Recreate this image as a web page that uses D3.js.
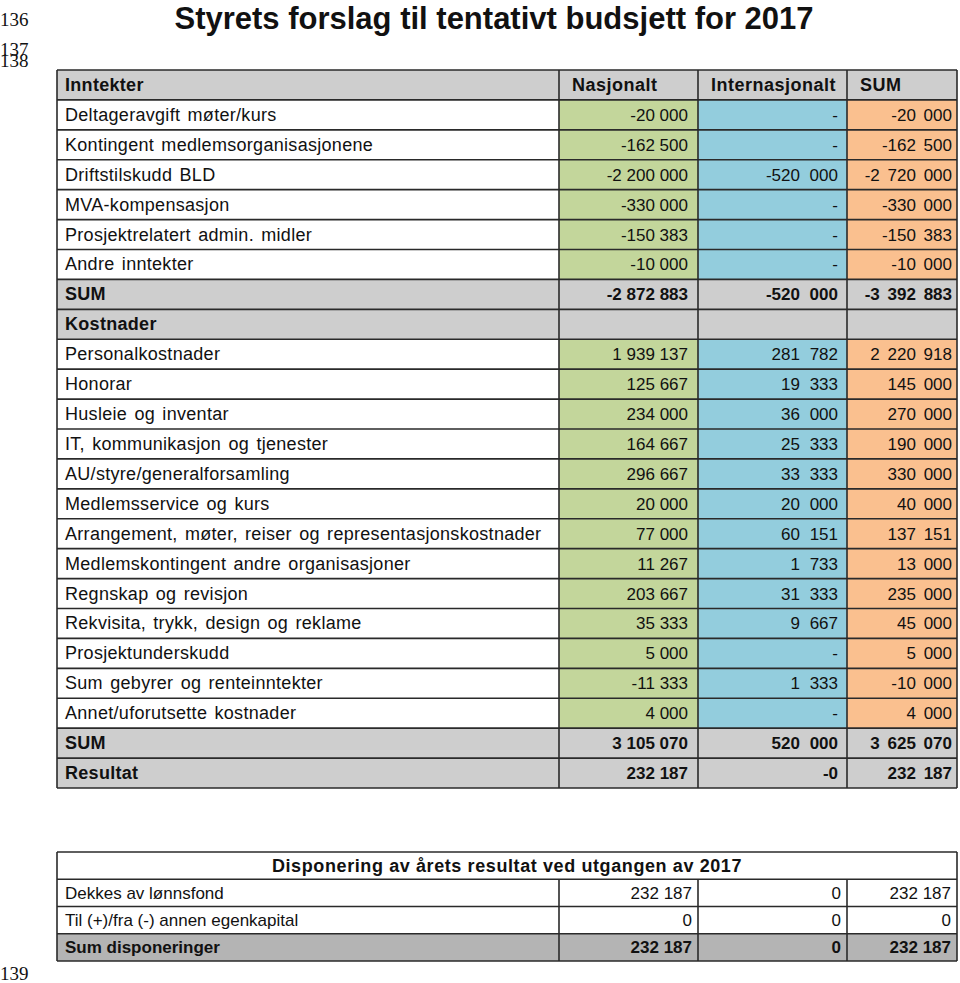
<!DOCTYPE html>
<html>
<head>
<meta charset="utf-8">
<script src="https://cdn.jsdelivr.net/npm/d3@7"></script>
<style>
  body { margin: 0; background: #fff; }
  text { font-family: "Liberation Sans", Arial, sans-serif; fill: #111; }
  .num { font-family: "Liberation Serif", "Times New Roman", serif; }
</style>
</head>
<body>
<svg id="budget"></svg>
<script>
var title = "Styrets forslag til tentativt budsjett for 2017";
var columnTitles = ["Nasjonalt", "Internasjonalt", "SUM"];

// row kinds: "head" = grey bold row, "item" = coloured row
var rowLabels = [
  "Inntekter", "Deltageravgift møter/kurs", "Kontingent medlemsorganisasjonene",
  "Driftstilskudd BLD", "MVA-kompensasjon", "Prosjektrelatert admin. midler",
  "Andre inntekter", "SUM", "Kostnader", "Personalkostnader", "Honorar",
  "Husleie og inventar", "IT, kommunikasjon og tjenester", "AU/styre/generalforsamling",
  "Medlemsservice og kurs", "Arrangement, møter, reiser og representasjonskostnader",
  "Medlemskontingent andre organisasjoner", "Regnskap og revisjon",
  "Rekvisita, trykk, design og reklame", "Prosjektunderskudd",
  "Sum gebyrer og renteinntekter", "Annet/uforutsette kostnader", "SUM", "Resultat"
];
var rowKinds = [
  "head", "item", "item", "item", "item", "item", "item", "head", "head",
  "item", "item", "item", "item", "item", "item", "item", "item", "item",
  "item", "item", "item", "item", "head", "head"
];
// null = "-" in the table, undefined = empty cell
var nasjonalt = [
  undefined, -20000, -162500, -2200000, -330000, -150383, -10000, -2872883, undefined,
  1939137, 125667, 234000, 164667, 296667, 20000, 77000, 11267, 203667, 35333,
  5000, -11333, 4000, 3105070, 232187
];
var internasjonalt = [
  undefined, null, null, -520000, null, null, null, -520000, undefined,
  281782, 19333, 36000, 25333, 33333, 20000, 60151, 1733, 31333, 9667,
  null, 1333, null, 520000, -0
];
var sumTotal = [
  undefined, -20000, -162500, -2720000, -330000, -150383, -10000, -3392883, undefined,
  2220918, 145000, 270000, 190000, 330000, 40000, 137151, 13000, 235000, 45000,
  5000, -10000, 4000, 3625070, 232187
];

var dispTitle = "Disponering av årets resultat ved utgangen av 2017";
var dispLabels = ["Dekkes av lønnsfond", "Til (+)/fra (-) annen egenkapital", "Sum disponeringer"];
var dispNasjonalt = [232187, 0, 232187];
var dispInternasjonalt = [0, 0, 0];
var dispSum = [232187, 0, 232187];

var lineNumbers = [
  { n: "136", y: 26 }, { n: "137", y: 56 }, { n: "138", y: 67 }, { n: "139", y: 980 }
];

var width = 960, height = 983;
var svg = d3.select("#budget").attr("width", width).attr("height", height);

var locale = d3.formatLocale({ decimal: ",", thousands: " ", grouping: [3], currency: ["", ""], minus: "-" });
var fmt = locale.format(",d");
function fmtVal(v) {
  if (v === undefined) return "";
  if (v === null) return "-";
  if (Object.is(v, -0)) return "-0";
  return fmt(v);
}

var colEdges = [57, 559, 698, 847, 957];
var fills = { label: "#ffffff", nas: "#c3d69b", int: "#93cddd", sum: "#fac08f", head: "#cecece" };
var colKeys = ["nas", "int", "sum"];
var colPad = [10, 9, 5];          // right padding of numbers per column
var colWordSpacing = [0, 5, 3];   // the pdf spreads the digit groups differently

// line numbers
svg.append("g").selectAll("text")
  .data(lineNumbers)
  .enter().append("text")
    .attr("class", "num")
    .attr("x", 0)
    .attr("y", function(d) { return d.y; })
    .style("font-size", "19px")
    .text(function(d) { return d.n; });

svg.append("text")
  .attr("x", 494)
  .attr("y", 29)
  .attr("text-anchor", "middle")
  .style("font-size", "31px")
  .style("font-weight", "bold")
  .text(title);

// main table
var y = d3.scaleBand().domain(d3.range(rowLabels.length)).range([70, 788]);

var rows = rowLabels.map(function(l, i) {
  return { label: l, kind: rowKinds[i], vals: [nasjonalt[i], internasjonalt[i], sumTotal[i]], i: i };
});

var main = svg.append("g");
var row = main.selectAll(".row")
  .data(rows)
  .enter().append("g")
    .attr("class", "row")
    .attr("transform", function(d) { return "translate(0," + y(d.i) + ")"; });

row.append("rect")
  .attr("x", colEdges[0]).attr("width", colEdges[1] - colEdges[0])
  .attr("height", y.bandwidth())
  .attr("fill", function(d) { return d.kind === "head" ? fills.head : fills.label; });

row.each(function(d) {
  var g = d3.select(this);
  colKeys.forEach(function(k, j) {
    g.append("rect")
      .attr("x", colEdges[j + 1]).attr("width", colEdges[j + 2] - colEdges[j + 1])
      .attr("height", y.bandwidth())
      .attr("fill", d.kind === "head" ? fills.head : fills[k]);
    if (d.i === 0) {
      g.append("text")
        .attr("x", colEdges[j + 1] + 13)
        .attr("y", y.bandwidth() / 2 + 6)
        .style("font-size", "18px").style("font-weight", "bold")
        .style("letter-spacing", "0.5px")
        .text(columnTitles[j]);
    } else {
      g.append("text")
        .attr("x", colEdges[j + 2] - colPad[j])
        .attr("y", y.bandwidth() / 2 + 6)
        .attr("text-anchor", "end")
        .style("font-size", "17px")
        .style("word-spacing", colWordSpacing[j] + "px")
        .style("font-weight", d.kind === "head" ? "bold" : "normal")
        .text(fmtVal(d.vals[j]));
    }
  });
});

row.append("text")
  .attr("x", colEdges[0] + 8)
  .attr("y", y.bandwidth() / 2 + 6)
  .style("font-size", "18px")
  .style("letter-spacing", "0.3px")
  .style("font-weight", function(d) { return d.kind === "head" ? "bold" : "normal"; })
  .style("word-spacing", "2px")
  .text(function(d) { return d.label; });

// grid lines
var grid = main.append("g").attr("stroke", "#2a2a2a").attr("stroke-width", 1.6);
grid.selectAll(".h")
  .data(d3.range(rowLabels.length + 1))
  .enter().append("line")
    .attr("x1", colEdges[0]).attr("x2", colEdges[4])
    .attr("y1", function(i) { return i < rowLabels.length ? y(i) : y.range()[1]; })
    .attr("y2", function(i) { return i < rowLabels.length ? y(i) : y.range()[1]; });
grid.selectAll(".v")
  .data(colEdges)
  .enter().append("line")
    .attr("x1", function(d) { return d; }).attr("x2", function(d) { return d; })
    .attr("y1", y.range()[0]).attr("y2", y.range()[1]);

// disposition table
var y2 = d3.scaleBand().domain(d3.range(dispLabels.length + 1)).range([852, 961]);
var disp = svg.append("g");

disp.append("text")
  .attr("x", (colEdges[0] + colEdges[4]) / 2)
  .attr("y", y2(0) + y2.bandwidth() / 2 + 6)
  .attr("text-anchor", "middle")
  .style("font-size", "18px").style("font-weight", "bold")
  .style("letter-spacing", "0.6px")
  .text(dispTitle);

var drows = dispLabels.map(function(l, i) {
  return { label: l, i: i + 1, bold: i === dispLabels.length - 1,
           vals: [dispNasjonalt[i], dispInternasjonalt[i], dispSum[i]] };
});
var drow = disp.selectAll(".drow")
  .data(drows)
  .enter().append("g")
    .attr("transform", function(d) { return "translate(0," + y2(d.i) + ")"; });

drow.append("rect")
  .attr("x", colEdges[0]).attr("width", colEdges[4] - colEdges[0])
  .attr("height", y2.bandwidth())
  .attr("fill", function(d) { return d.bold ? "#b4b4b4" : "#fff"; });

drow.append("text")
  .attr("x", colEdges[0] + 8)
  .attr("y", y2.bandwidth() / 2 + 6)
  .style("font-size", "17px")
  .style("font-weight", function(d) { return d.bold ? "bold" : "normal"; })
  .text(function(d) { return d.label; });

drow.each(function(d) {
  var g = d3.select(this);
  d.vals.forEach(function(v, j) {
    g.append("text")
      .attr("x", colEdges[j + 2] - 6)
      .attr("y", y2.bandwidth() / 2 + 6)
      .attr("text-anchor", "end")
      .style("font-size", "17px")
      .style("font-weight", d.bold ? "bold" : "normal")
      .text(fmtVal(v));
  });
});

var grid2 = disp.append("g").attr("stroke", "#2a2a2a").attr("stroke-width", 1.6);
grid2.selectAll(".h")
  .data(d3.range(dispLabels.length + 2))
  .enter().append("line")
    .attr("x1", colEdges[0]).attr("x2", colEdges[4])
    .attr("y1", function(i) { return i <= dispLabels.length ? y2(i) : y2.range()[1]; })
    .attr("y2", function(i) { return i <= dispLabels.length ? y2(i) : y2.range()[1]; });
grid2.selectAll(".v")
  .data(colEdges)
  .enter().append("line")
    .attr("x1", function(d) { return d; }).attr("x2", function(d) { return d; })
    .attr("y1", function(d, i) { return (i === 0 || i === 4) ? y2(0) : y2(1); })
    .attr("y2", y2.range()[1]);
</script>
</body>
</html>
